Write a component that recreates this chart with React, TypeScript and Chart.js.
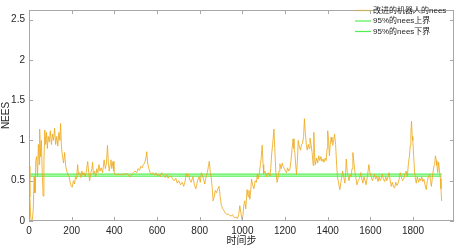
import React, { useEffect, useRef } from "react";
import { Chart, registerables } from "chart.js";

Chart.register(...registerables);

const steps = [0,4,8,12,16,20,24,28,32,36,40,44,48,50,54,58,62,66,70,74,78,82,86,90,95,100,105,110,115,120,125,130,135,140,145,148,152,157,162,167,172,177,183,188,193,198,203,208,213,218,223,228,232,238,243,248,253,258,263,268,275,280,284,290,295,298,302,308,313,318,323,328,333,338,345,352,358,363,368,372,376,380,384,388,394,398,402,410,420,430,440,450,460,468,475,482,490,497,505,512,518,524,530,536,542,548,552,556,562,568,574,580,588,595,602,608,615,622,630,638,645,652,660,667,674,680,688,695,702,710,718,725,732,737,742,748,752,760,768,775,782,790,797,803,808,815,820,824,830,836,841,845,850,855,859,863,868,873,879,885,891,896,902,907,913,920,927,933,940,947,954,960,966,972,977,983,988,993,998,1002,1007,1011,1016,1022,1027,1031,1035,1040,1043,1048,1054,1060,1066,1070,1074,1080,1085,1089,1093,1097,1100,1106,1113,1120,1125,1129,1133,1137,1142,1148,1152,1157,1163,1168,1172,1176,1182,1187,1191,1197,1202,1207,1212,1218,1223,1228,1233,1238,1242,1246,1250,1254,1258,1262,1267,1273,1277,1282,1287,1291,1295,1300,1304,1309,1313,1317,1322,1327,1332,1335,1338,1342,1348,1353,1358,1363,1368,1373,1378,1383,1388,1393,1397,1400,1404,1408,1412,1416,1420,1424,1428,1432,1437,1442,1446,1451,1457,1463,1470,1475,1481,1484,1487,1492,1496,1500,1505,1510,1514,1518,1522,1526,1531,1537,1543,1549,1555,1560,1565,1570,1575,1580,1586,1593,1598,1604,1610,1615,1620,1625,1630,1636,1641,1646,1651,1656,1661,1667,1672,1677,1683,1688,1693,1698,1703,1709,1714,1719,1725,1730,1735,1740,1745,1750,1756,1762,1768,1773,1779,1783,1787,1790,1793,1796,1799,1803,1807,1811,1815,1820,1826,1831,1836,1841,1846,1851,1856,1862,1867,1872,1878,1882,1886,1891,1897,1901,1905,1909,1912,1916,1920,1924,1928,1931,1934];

const nees = [0.68,0.3,0.05,0.0,0.02,0.15,0.55,0.35,0.75,0.8,0.55,0.95,0.7,1.14,0.8,1.0,0.6,0.31,0.75,1.13,0.95,1.1,0.9,1.05,0.98,1.12,0.95,1.08,1.0,1.15,0.95,1.05,0.93,1.1,1.0,1.21,0.93,0.8,0.72,0.85,0.68,0.62,0.57,0.55,0.48,0.43,0.42,0.5,0.46,0.55,0.52,0.7,0.58,0.6,0.54,0.62,0.57,0.6,0.55,0.6,0.74,0.6,0.5,0.6,0.65,0.73,0.58,0.62,0.55,0.65,0.6,0.7,0.62,0.66,0.6,0.76,0.65,0.72,0.94,0.72,0.62,0.7,0.76,0.65,0.74,0.62,0.58,0.575,0.58,0.575,0.58,0.58,0.59,0.56,0.55,0.58,0.6,0.62,0.6,0.65,0.63,0.68,0.66,0.7,0.72,0.78,0.86,0.72,0.65,0.6,0.58,0.6,0.57,0.6,0.56,0.58,0.55,0.6,0.57,0.54,0.58,0.53,0.56,0.55,0.52,0.5,0.53,0.47,0.5,0.45,0.48,0.43,0.5,0.59,0.55,0.58,0.52,0.48,0.55,0.45,0.4,0.5,0.55,0.48,0.6,0.55,0.5,0.46,0.55,0.6,0.68,0.74,0.6,0.52,0.4,0.25,0.3,0.38,0.35,0.4,0.43,0.3,0.19,0.16,0.13,0.1,0.08,0.09,0.07,0.06,0.08,0.05,0.04,0.05,0.03,0.08,0.19,0.1,0.02,0.05,0.2,0.25,0.15,0.39,0.3,0.38,0.27,0.4,0.52,0.45,0.4,0.5,0.48,0.58,0.52,0.6,0.71,0.8,0.94,0.7,0.59,0.62,0.55,0.6,0.58,0.56,0.65,0.82,0.95,1.14,0.9,0.6,0.48,0.55,0.62,0.71,0.65,0.72,0.68,0.65,0.62,0.6,0.66,0.62,0.65,0.75,0.9,1.02,0.9,0.85,0.7,0.58,0.75,1.0,0.92,0.88,0.95,0.96,1.05,1.27,1.1,0.95,0.88,0.95,0.9,1.03,0.95,0.85,0.69,1.1,0.85,0.7,0.78,0.72,0.81,0.75,0.8,0.74,0.77,0.73,0.78,0.75,0.9,1.12,1.0,0.81,0.95,1.04,0.98,0.94,1.0,1.08,0.95,0.69,0.55,0.47,0.39,0.5,0.62,0.55,0.47,0.6,0.77,0.6,0.55,0.5,0.58,0.55,0.65,0.85,0.75,0.64,0.55,0.45,0.5,0.53,0.6,0.52,0.47,0.55,0.5,0.45,0.55,0.7,0.6,0.55,0.5,0.55,0.58,0.52,0.56,0.49,0.55,0.5,0.53,0.58,0.52,0.49,0.55,0.5,0.55,0.6,0.5,0.43,0.48,0.42,0.41,0.48,0.44,0.47,0.52,0.6,0.55,0.5,0.52,0.58,0.62,0.55,0.73,0.8,0.94,1.1,1.24,1.05,1.0,0.8,0.62,0.52,0.47,0.55,0.48,0.53,0.5,0.55,0.49,0.52,0.45,0.39,0.5,0.55,0.58,0.5,0.43,0.55,0.67,0.7,0.81,0.75,0.69,0.6,0.73,0.62,0.53,0.4,0.25];

const boundSteps = [0, 1934];
const upperBound = [0.583, 0.583];
const lowerBound = [0.556, 0.556];

const xTicks = [0, 200, 400, 600, 800, 1000, 1200, 1400, 1600, 1800];
const yTicks = [0, 0.5, 1, 1.5, 2, 2.5];

const labels = ["改进的机器人的nees", "95%的nees上界", "95%的nees下界"];

const FONT = "'Liberation Sans', Arial, 'Noto Sans CJK SC', sans-serif";
const AXIS_GREY = "#a8a8a8";
const TEXT = "#262626";

const matlabPlugin = {
  id: "matlabBox",
  afterDraw(chart: any) {
    const { ctx, chartArea } = chart;
    const { left, right, top, bottom } = chartArea;
    const xs = chart.scales.x;
    const ys = chart.scales.y;
    ctx.save();
    ctx.strokeStyle = AXIS_GREY;
    ctx.lineWidth = 1;
    ctx.strokeRect(left + 0.5, top + 0.5, right - left - 1, bottom - top - 1);
    const tl = 4;
    ctx.beginPath();
    xTicks.forEach((v) => {
      const px = Math.round(xs.getPixelForValue(v)) + 0.5;
      ctx.moveTo(px, bottom);
      ctx.lineTo(px, bottom - tl);
      ctx.moveTo(px, top);
      ctx.lineTo(px, top + tl);
    });
    yTicks.forEach((v) => {
      const py = Math.round(ys.getPixelForValue(v)) + 0.5;
      ctx.moveTo(left, py);
      ctx.lineTo(left + tl, py);
      ctx.moveTo(right, py);
      ctx.lineTo(right - tl, py);
    });
    ctx.stroke();

    // legend
    const lx0 = 355;
    const lx1 = 371;
    const rows = [10.5, 21, 31.5];
    ctx.font = "8px " + FONT;
    ctx.textBaseline = "middle";
    ctx.textAlign = "left";
    chart.data.datasets.forEach((ds: any, i: number) => {
      const y = rows[i];
      ctx.strokeStyle = i === 0 ? "rgba(237,177,32,0.45)" : ds.borderColor;
      ctx.lineWidth = i === 0 ? 1.5 : 1.2;
      ctx.beginPath();
      ctx.moveTo(lx0, y);
      ctx.lineTo(lx1, y);
      ctx.stroke();
      ctx.fillStyle = TEXT;
      ctx.fillText(ds.label, lx1 + 2, y);
    });
    ctx.restore();
  },
};

export default function App() {
  const ref = useRef<HTMLCanvasElement | null>(null);
  useEffect(() => {
    document.body.style.margin = "0";
    if (!ref.current) return;
    const chart = new Chart(ref.current, {
      type: "line",
      data: {
        datasets: [
          {
            label: labels[0],
            data: steps.map((s, i) => ({ x: s, y: nees[i] })),
            borderColor: "rgba(237,170,30,0.85)",
            borderWidth: 1,
            pointRadius: 0,
            tension: 0,
          },
          {
            label: labels[1],
            data: boundSteps.map((s, i) => ({ x: s, y: upperBound[i] })),
            borderColor: "rgba(20,235,20,0.75)",
            borderWidth: 1.3,
            pointRadius: 0,
          },
          {
            label: labels[2],
            data: boundSteps.map((s, i) => ({ x: s, y: lowerBound[i] })),
            borderColor: "rgba(20,235,20,0.75)",
            borderWidth: 1.3,
            pointRadius: 0,
          },
        ],
      },
      options: {
        responsive: false,
        animation: false,
        devicePixelRatio: 1,
        layout: { padding: { top: 1, right: 2, left: 0, bottom: 0 } },
        plugins: { legend: { display: false }, tooltip: { enabled: false } },
        scales: {
          x: {
            type: "linear",
            min: 0,
            max: 1992,
            afterFit: (s: any) => {
              s.height = 26;
            },
            afterBuildTicks: (s: any) => {
              s.ticks = xTicks.map((v) => ({ value: v }));
            },
            grid: { display: false, drawTicks: false },
            border: { display: false },
            ticks: {
              color: TEXT,
              font: { size: 10, family: FONT },
              padding: 4,
              maxRotation: 0,
              autoSkip: false,
              callback: (v: any) => String(v),
            },
            title: {
              display: true,
              text: "时间步",
              color: TEXT,
              font: { size: 10, family: FONT },
              padding: { top: 0, bottom: 0 },
            },
          },
          y: {
            type: "linear",
            min: 0,
            max: 2.62,
            afterFit: (s: any) => {
              s.width = 29;
            },
            afterBuildTicks: (s: any) => {
              s.ticks = yTicks.map((v) => ({ value: v }));
            },
            grid: { display: false, drawTicks: false },
            border: { display: false },
            ticks: {
              color: TEXT,
              font: { size: 10, family: FONT },
              padding: 4,
              autoSkip: false,
              callback: (v: any) => String(v),
            },
            title: {
              display: true,
              text: "NEES",
              color: TEXT,
              font: { size: 10, family: FONT },
              padding: { top: 0, bottom: 0 },
            },
          },
        },
      },
      plugins: [matlabPlugin],
    });
    return () => chart.destroy();
  }, []);
  return (
    <div style={{ width: 456, height: 247 }}>
      <canvas ref={ref} width={456} height={247} style={{ display: "block" }} />
    </div>
  );
}
